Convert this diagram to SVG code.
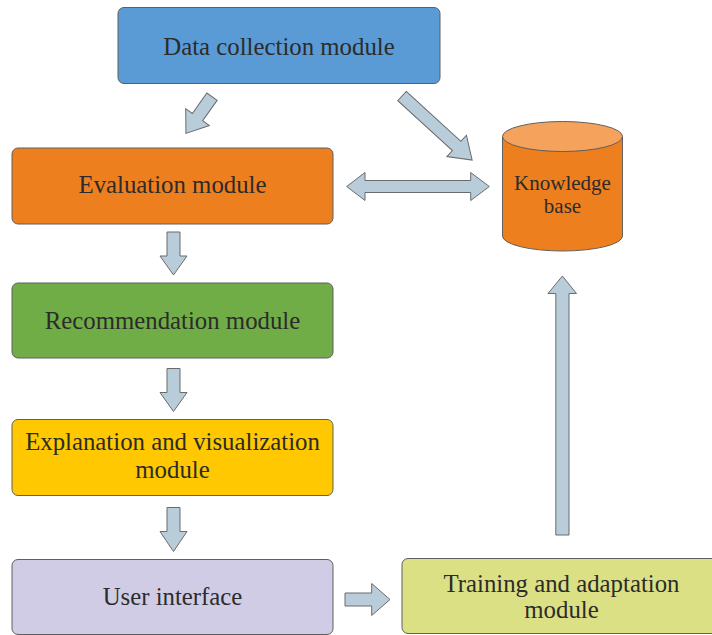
<svg xmlns="http://www.w3.org/2000/svg" width="712" height="635" viewBox="0 0 712 635">
<style>
.box{stroke:#5f5f5f;stroke-width:1}
.t{font-family:"Liberation Serif","Times New Roman",serif;font-size:24.8px;fill:#2b2b2b;text-anchor:middle}
.ts{font-family:"Liberation Serif","Times New Roman",serif;font-size:21px;fill:#2b2b2b;text-anchor:middle}
.arr{fill:#B8CCDA;stroke:#6b6b6b;stroke-width:1;stroke-linejoin:miter}
</style>
<rect width="712" height="635" fill="#ffffff"/>
<g id="data-collection">
<rect class="box" x="118" y="7.5" width="322" height="76" rx="6" fill="#5B9BD5"/>
<text class="t" x="279" y="55">Data collection module</text>
</g>
<g id="evaluation">
<rect class="box" x="12" y="148" width="321" height="76" rx="6" fill="#EE7F1F"/>
<text class="t" x="172.5" y="193">Evaluation module</text>
</g>
<g id="recommendation">
<rect class="box" x="12" y="283" width="321" height="75" rx="6" fill="#70AD47"/>
<text class="t" x="172.5" y="329">Recommendation module</text>
</g>
<g id="explanation">
<rect class="box" x="12" y="419.5" width="321" height="76" rx="6" fill="#FFC800"/>
<text class="t" x="172.5" y="450">Explanation and visualization</text>
<text class="t" x="172.5" y="478">module</text>
</g>
<g id="user-interface">
<rect class="box" x="12" y="559.5" width="321" height="75" rx="6" fill="#D0CCE6"/>
<text class="t" x="172.5" y="605">User interface</text>
</g>
<g id="training">
<rect class="box" x="402" y="558.5" width="320" height="75" rx="6" fill="#DCE085"/>
<text class="t" x="561.5" y="592">Training and adaptation</text>
<text class="t" x="561.5" y="618">module</text>
</g>
<g id="knowledge-base">
<path class="box" d="M502.5,136.5 V236 A60,15 0 0 0 622.5,236 V136.5 Z" fill="#EE7F1F"/>
<ellipse class="box" cx="562.5" cy="136.5" rx="60" ry="15" fill="#F5A35C"/>
<text class="ts" x="562.5" y="190">Knowledge</text>
<text class="ts" x="562.5" y="213">base</text>
</g>
<g id="connectors">
<polygon class="arr" transform="translate(212,96.7) rotate(125.4)" points="0,-6.3 25,-6.3 25,-14.5 45,0 25,14.5 25,6.3 0,6.3"/>
<polygon class="arr" transform="translate(402,96) rotate(42.4)" points="0,-6.3 74,-6.3 74,-14.5 95,0 74,14.5 74,6.3 0,6.3"/>
<polygon class="arr" points="346.7,186.5 365,172.5 365,180.5 470.7,180.5 470.7,172.5 489.3,186.5 470.7,200.5 470.7,192.5 365,192.5 365,200.5"/>
<polygon class="arr" points="167,232 180,232 180,256 187,256 173.5,275 160,256 167,256"/>
<polygon class="arr" points="167,368.5 180,368.5 180,392.5 187,392.5 173.5,411.5 160,392.5 167,392.5"/>
<polygon class="arr" points="167,507.5 180,507.5 180,531.5 187,531.5 173.5,551.5 160,531.5 167,531.5"/>
<polygon class="arr" points="345,593 371.7,593 371.7,583.5 390,599.5 371.7,615.5 371.7,606 345,606"/>
<polygon class="arr" points="555.8,535 569,535 569,293.5 576.5,293.5 562.4,276 548,293.5 555.8,293.5"/>
</g>
</svg>
